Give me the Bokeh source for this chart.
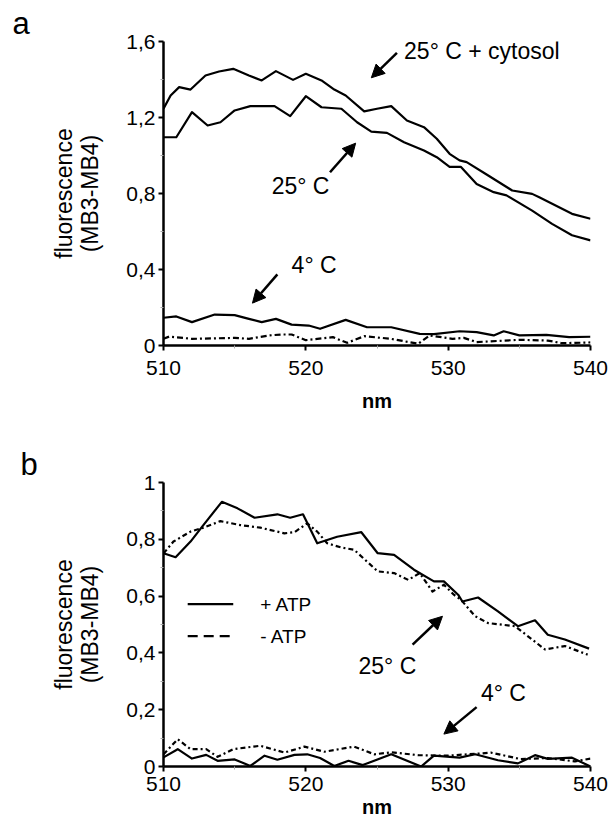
from bokeh.plotting import figure
from bokeh.layouts import column
from bokeh.models import (Arrow, NormalHead, Label, FixedTicker,
                          CustomJSTickFormatter, Range1d)
from bokeh.embed import file_html
from bokeh.resources import INLINE

FONT = "Liberation Sans"

# ---------------- Panel a data ----------------
a_cyt_nm = [510, 510.5, 511.1, 511.9, 512.95, 513.9, 514.9, 516.0, 516.9, 517.9, 519.1, 520.0,
            521.1, 522.0, 522.8, 524.1, 525.0, 526.0, 527.1, 528.3, 529.2, 530.1, 530.8,
            531.3, 532.7, 534.5, 535.9, 536.4, 538.7, 540]
a_cyt_v = [1.246, 1.316, 1.36, 1.347, 1.421, 1.442, 1.456, 1.421, 1.395, 1.444, 1.398, 1.43,
           1.395, 1.347, 1.316, 1.232, 1.246, 1.26, 1.184, 1.149, 1.088, 1.009, 0.974,
           0.965, 0.90, 0.816, 0.798, 0.78, 0.693, 0.667]

a_25_nm = [510, 510.9, 512.0, 513.1, 514.0, 515.0, 516.1, 517.8, 518.9, 520.0, 521.1, 522.5,
           523.6, 524.6, 525.7, 526.9, 528.3, 529.2, 530.1, 530.9, 532.0, 533.2, 534.1,
           535.9, 537.3, 538.7, 540]
a_25_v = [1.096, 1.096, 1.228, 1.158, 1.175, 1.237, 1.26, 1.26, 1.207, 1.312, 1.254, 1.246,
          1.175, 1.126, 1.119, 1.07, 1.026, 0.991, 0.94, 0.94, 0.85, 0.807, 0.79,
          0.71, 0.64, 0.58, 0.553]

a_4s_nm = [510, 510.9, 512.0, 513.6, 515.0, 516.0, 516.9, 517.9, 519.0, 520.2, 521.0, 522.8,
           524.3, 526.0, 528.0, 529.0, 530.8, 532.0, 533.2, 533.9, 535.0, 536.9, 538.5, 540]
a_4s_v = [0.146, 0.153, 0.123, 0.163, 0.16, 0.14, 0.123, 0.14, 0.11, 0.105, 0.088, 0.135,
          0.096, 0.096, 0.061, 0.06, 0.075, 0.07, 0.053, 0.075, 0.053, 0.056, 0.044, 0.046]

a_4d_nm = [510, 510.4, 512, 515, 516, 517.4, 518.3, 519, 520, 521.9, 522.9, 524.1, 526,
           527.9, 528.7, 530.3, 531.1, 532, 535, 537, 538, 540]
a_4d_v = [0.035, 0.047, 0.035, 0.04, 0.035, 0.053, 0.058, 0.058, 0.028, 0.044, 0.014, 0.049,
          0.035, 0.009, 0.053, 0.035, 0.04, 0.018, 0.03, 0.026, 0.012, 0.016]

# ---------------- Panel b data ----------------
b_p25_nm = [510, 510.85, 511.9, 512.8, 514.1, 515.2, 516.4, 518.0, 518.9, 519.8, 520.8, 522.2,
            523.9, 525.05, 526.2, 527.6, 529.0, 529.7, 530.7, 531.0, 532.1, 533.5, 534.9,
            536.1, 537.0, 538.2, 539.9]
b_p25_v = [0.751, 0.737, 0.792, 0.85, 0.932, 0.909, 0.876, 0.888, 0.876, 0.888, 0.786, 0.809,
           0.825, 0.751, 0.745, 0.693, 0.652, 0.652, 0.605, 0.581, 0.595, 0.546, 0.494,
           0.515, 0.464, 0.447, 0.415]

b_m25_nm = [510, 510.7, 511.9, 512.8, 514.0, 515.4, 516.8, 518.5, 519.2, 520.1, 520.8, 521.5,
            522.5, 523.4, 525.05, 526.2, 527.2, 528.0, 528.9, 529.7, 530.4, 530.9, 531.9,
            532.8, 534.7, 536.8, 538.2, 539.8]
b_m25_v = [0.75, 0.792, 0.827, 0.841, 0.864, 0.85, 0.841, 0.821, 0.825, 0.856, 0.827, 0.786,
           0.771, 0.763, 0.687, 0.681, 0.657, 0.681, 0.616, 0.64, 0.605, 0.587, 0.529,
           0.505, 0.494, 0.412, 0.424, 0.394]

b_p4_nm = [510, 511, 512, 513, 513.8, 515, 516.1, 517.1, 518, 519.2, 520.1, 521, 522, 523,
           524, 526, 528.1, 529, 530.8, 531.9, 533.5, 534.9, 536.1, 537, 538.7, 540]
b_p4_v = [0.032, 0.061, 0.028, 0.041, 0.02, 0.025, 0.002, 0.038, 0.024, 0.041, 0.043, 0.03,
          0.002, 0.02, 0.005, 0.043, 0.0, 0.038, 0.031, 0.043, 0.022, 0.011, 0.04, 0.027,
          0.031, 0.0]

b_m4_nm = [510, 511, 511.9, 513, 513.8, 514.9, 516.8, 518.5, 519.9, 521.3, 523.4, 524.8, 526,
           527.9, 529.9, 532.3, 533, 535.1, 537, 538.9, 540]
b_m4_v = [0.043, 0.096, 0.061, 0.061, 0.034, 0.061, 0.073, 0.049, 0.07, 0.052, 0.07, 0.043,
          0.05, 0.04, 0.038, 0.046, 0.049, 0.026, 0.03, 0.018, 0.028]

x_ticks = [510, 520, 530, 540]
a_yticks = [0, 0.4, 0.8, 1.2, 1.6]
b_yticks = [0, 0.2, 0.4, 0.6, 0.8, 1.0]

fmt = CustomJSTickFormatter(code="""
if (Math.abs(tick) < 1e-9) return '0';
if (Math.abs(tick - 1) < 1e-9) return '1';
return tick.toFixed(1).replace('.', ',');
""")


def style(p, yticks, yminor, panel, offset, lab_standoff, ax_standoff):
    p.xaxis.ticker = FixedTicker(ticks=x_ticks, minor_ticks=[515, 525, 535])
    p.yaxis.ticker = FixedTicker(ticks=yticks, minor_ticks=yminor)
    p.yaxis.formatter = fmt
    for ax in (p.xaxis, p.yaxis):
        ax.axis_line_width = 2.5
        ax.axis_line_color = "black"
        ax.major_tick_line_width = 2
        ax.major_tick_in = 0
        ax.major_tick_out = 5
        ax.minor_tick_in = 0
        ax.minor_tick_out = 3
        ax.minor_tick_line_color = "#aaaaaa"
        ax.major_label_text_font = FONT
        ax.major_label_text_font_size = "21px"
        ax.major_label_text_color = "black"
    p.xaxis.major_label_standoff = lab_standoff
    p.yaxis.major_label_standoff = 3
    p.yaxis.axis_label = "fluorescence\n(MB3-MB4)"
    p.yaxis.axis_label_text_font = FONT
    p.yaxis.axis_label_text_font_size = "23px"
    p.yaxis.axis_label_text_font_style = "normal"
    p.yaxis.axis_label_text_color = "black"
    p.yaxis.axis_label_text_line_height = 1.0
    p.yaxis.axis_label_standoff = 20
    p.xaxis.axis_label = "nm"
    p.xaxis.axis_label_text_font = FONT
    p.xaxis.axis_label_text_font_size = "20px"
    p.xaxis.axis_label_text_font_style = "bold"
    p.xaxis.axis_label_text_color = "black"
    p.xaxis.axis_label_standoff = ax_standoff
    p.xgrid.visible = False
    p.ygrid.visible = False
    p.outline_line_color = None
    p.background_fill_color = "white"
    p.border_fill_color = "white"
    p.title.text = panel
    p.title.text_font = FONT
    p.title.text_font_size = "31px"
    p.title.text_font_style = "normal"
    p.title.text_color = "black"
    p.title.align = "left"
    p.title.offset = offset
    p.title.standoff = 2


def text(p, x, y, s, size="23px"):
    p.add_layout(Label(x=x, y=y, text=s, text_font=FONT, text_font_size=size,
                       text_baseline="middle", text_align="left", text_color="black"))


def arrow(p, xs, ys, xe, ye):
    p.add_layout(Arrow(end=NormalHead(size=13, fill_color="black", line_color="black"),
                       x_start=xs, y_start=ys, x_end=xe, y_end=ye,
                       line_width=2.5, line_color="black"))


def curve(p, xs, ys, dash="solid"):
    p.line(xs, ys, line_color="black", line_width=2.2, line_dash=dash, line_join="round")


# ---------------- Panel a ----------------
pa = figure(width=612, height=430, output_backend="svg", toolbar_location=None,
            x_range=Range1d(510, 540), y_range=Range1d(0, 1.6),
            min_border_left=161, min_border_right=19, min_border_top=41, min_border_bottom=85)
style(pa, a_yticks, [0.2, 0.6, 1.0, 1.4], "a", -151, 10, 12)
curve(pa, a_cyt_nm, a_cyt_v)
curve(pa, a_25_nm, a_25_v)
curve(pa, a_4s_nm, a_4s_v)
curve(pa, a_4d_nm, a_4d_v, "6 3 2 3")
text(pa, 526.9, 1.55, "25° C + cytosol")
arrow(pa, 526.4, 1.54, 524.6, 1.409)
text(pa, 517.6, 0.842, "25° C")
arrow(pa, 521.7, 0.912, 523.5, 1.065)
text(pa, 519.0, 0.426, "4° C")
arrow(pa, 518.0, 0.374, 516.25, 0.223)

# ---------------- Panel b ----------------
pb = figure(width=612, height=394, output_backend="svg", toolbar_location=None,
            x_range=Range1d(510, 540), y_range=Range1d(0, 1.0),
            min_border_left=163, min_border_right=22, min_border_top=52, min_border_bottom=58)
style(pb, b_yticks, [0.1, 0.3, 0.5, 0.7, 0.9], "b", -143, 5, 2)
curve(pb, b_p25_nm, b_p25_v)
curve(pb, b_m25_nm, b_m25_v, "5 3 2 3")
curve(pb, b_p4_nm, b_p4_v)
curve(pb, b_m4_nm, b_m4_v, "5 3 2 3")

leg_x = [511.7, 514.9]
curve(pb, leg_x, [0.572, 0.572])
curve(pb, leg_x, [0.459, 0.459], "10 6")
text(pb, 516.8, 0.572, "+ ATP", size="19px")
text(pb, 516.8, 0.459, "- ATP", size="19px")

text(pb, 523.7, 0.353, "25° C")
arrow(pb, 527.5, 0.429, 529.6, 0.529)
text(pb, 532.3, 0.26, "4° C")
arrow(pb, 532.0, 0.209, 529.7, 0.114)

layout = column(pa, pb, spacing=0)
open("out.html", "w").write(file_html(layout, INLINE))
